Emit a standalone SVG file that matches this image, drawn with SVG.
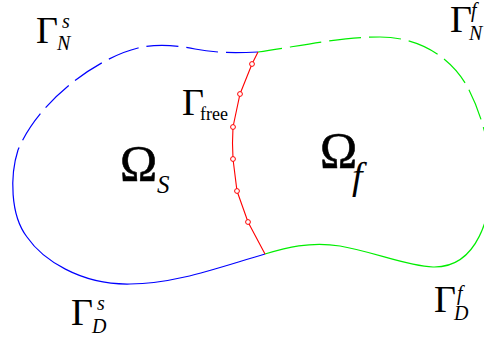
<svg xmlns="http://www.w3.org/2000/svg" width="484" height="338" viewBox="0 0 484 338">
<style>
  .b{fill:none;stroke:#0000ff;stroke-width:1.2}
  .g{fill:none;stroke:#00ee00;stroke-width:1.2}
  .r{fill:none;stroke:#ff0000;stroke-width:1.1}
  .dash{stroke-dasharray:32 8}
  .pt{fill:#ffffff;stroke:#ff0000;stroke-width:1}
</style>
<rect width="484" height="338" fill="#ffffff"/>
<g id="boundaries">
  <path id="gamma-N-s" class="b dash" d="M258,52 C235,53 215,53 195,49 C175,45 155,44 138,48 C100,57 40,98 18,150"/>
  <path id="gamma-D-s" class="b" d="M18,150 C10,175 10,215 27,237 C42,259 80,285 130,284 C175,284 220,267 265,254"/>
  <path id="gamma-N-f" class="g dash" style="stroke-dashoffset:8" d="M258,52 C300,46 340,37 380,37 C420,37 452,58 468,88 C478,107 490,140 491,175"/>
  <path id="gamma-D-f" class="g" d="M491,175 C492,215 478,268 433,267 C406,266 375,252 340,246 C310,241 285,248 265,254"/>
  <g id="gamma-free">
    <polyline class="r" points="258,52 252,64 240,94 233,127 232.5,143 233,159 237,191 248,222 265,254"/>
    <circle class="pt" cx="252" cy="64" r="2.4"/>
    <circle class="pt" cx="240" cy="94" r="2.4"/>
    <circle class="pt" cx="233" cy="127" r="2.4"/>
    <circle class="pt" cx="233" cy="159" r="2.4"/>
    <circle class="pt" cx="237" cy="191" r="2.4"/>
    <circle class="pt" cx="248" cy="222" r="2.4"/>
  </g>
</g>
<g id="labels" font-family="Liberation Serif" fill="#000000">
  <g id="label-GNs">
    <text x="36" y="43" font-size="38">Γ</text>
    <text x="62" y="28" font-size="20" font-style="italic">s</text>
    <text x="57" y="50" font-size="20" font-style="italic">N</text>
  </g>
  <g id="label-GNf">
    <text x="450" y="32" font-size="38">Γ</text>
    <text x="471" y="17" font-size="20" font-style="italic">f</text>
    <text x="469" y="40" font-size="20" font-style="italic">N</text>
  </g>
  <g id="label-Gfree">
    <text x="182" y="115" font-size="38">Γ</text>
    <text x="200" y="120" font-size="18">free</text>
  </g>
  <g id="label-OmegaS">
    <text x="120" y="180" font-size="50" stroke="#000000" stroke-width="0.6">Ω</text>
    <text x="157" y="193" font-size="25" font-style="italic">S</text>
  </g>
  <g id="label-OmegaF">
    <text x="320" y="167" font-size="50" stroke="#000000" stroke-width="0.6">Ω</text>
    <text x="352" y="189" font-size="38" font-style="italic">f</text>
  </g>
  <g id="label-GDs">
    <text x="71" y="325" font-size="38">Γ</text>
    <text x="97" y="310" font-size="20" font-style="italic">s</text>
    <text x="92" y="333" font-size="20" font-style="italic">D</text>
  </g>
  <g id="label-GDf">
    <text x="434" y="312" font-size="38">Γ</text>
    <text x="457" y="300" font-size="20" font-style="italic">f</text>
    <text x="454" y="320" font-size="20" font-style="italic">D</text>
  </g>
</g>
</svg>
